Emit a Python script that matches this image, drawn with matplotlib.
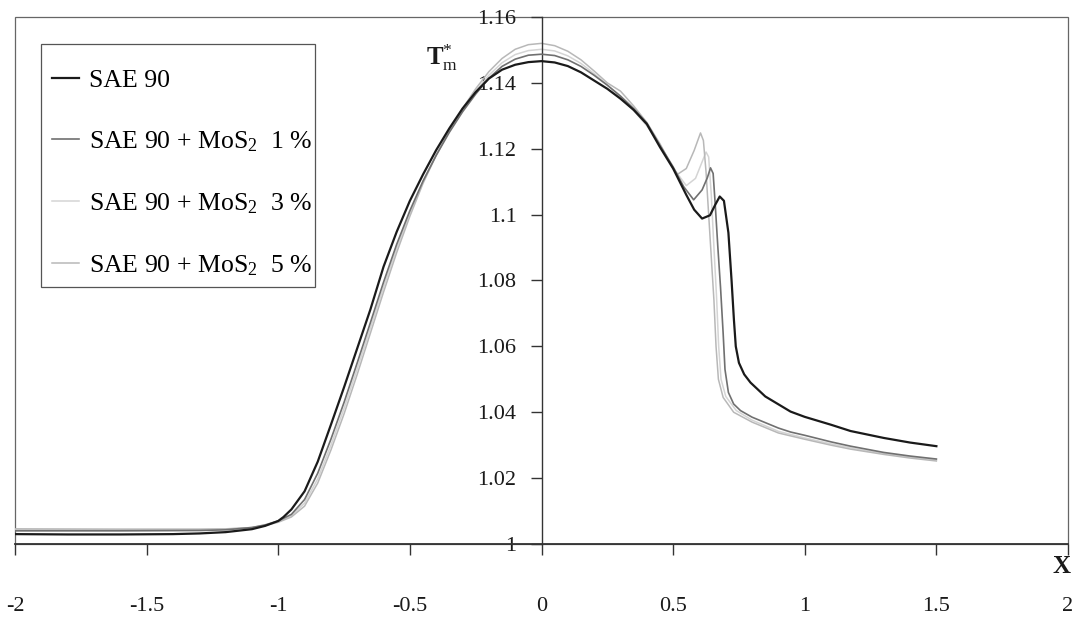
import matplotlib
matplotlib.use("Agg")
import matplotlib.pyplot as plt
from matplotlib.patches import Rectangle
from matplotlib.ticker import FixedLocator, FixedFormatter

plt.rcParams['font.family'] = ['Liberation Serif', 'DejaVu Serif']
plt.rcParams['mathtext.fontset'] = 'custom'
plt.rcParams['mathtext.rm'] = 'Liberation Serif'
plt.rcParams['mathtext.it'] = 'Liberation Serif:italic'
plt.rcParams['mathtext.bf'] = 'Liberation Serif:bold'
plt.rcParams['axes.unicode_minus'] = False

# ---------------- data ----------------
x_sae90 = [-2, -1.8, -1.6, -1.4, -1.3, -1.2, -1.1, -1.05, -1.0, -0.98, -0.95, -0.9, -0.85,
           -0.8, -0.75, -0.7, -0.65, -0.6, -0.55, -0.5, -0.45, -0.4, -0.35, -0.3, -0.25,
           -0.2, -0.15, -0.1, -0.05, 0, 0.05, 0.1, 0.15, 0.2, 0.25, 0.3, 0.35, 0.4, 0.45,
           0.5, 0.55, 0.58, 0.61, 0.64, 0.66, 0.677, 0.693, 0.71, 0.722, 0.731, 0.738,
           0.75, 0.77, 0.794, 0.85, 0.946, 1.0, 1.1, 1.174, 1.3, 1.4, 1.5]
y_sae90 = [1.0030, 1.0029, 1.0029, 1.0030, 1.0032, 1.0036, 1.0045, 1.0055, 1.0070, 1.0082,
           1.0105, 1.0160, 1.0250, 1.0362, 1.0476, 1.0594, 1.0712, 1.0842, 1.0948, 1.1042,
           1.1122, 1.1196, 1.1262, 1.1322, 1.1372, 1.1413, 1.1440, 1.1455, 1.1463, 1.1466,
           1.1462, 1.1451, 1.1432, 1.1407, 1.1382, 1.1352, 1.1318, 1.1275, 1.1205, 1.1140,
           1.1060, 1.1015, 1.0988, 1.0998, 1.1030, 1.1055, 1.1042, 1.0945, 1.0800, 1.0680,
           1.0600, 1.0550, 1.0515, 1.0490, 1.0448, 1.0402, 1.0386, 1.0362, 1.0343, 1.0322,
           1.0308, 1.0297]

x_mos1 = [-2, -1.6, -1.3, -1.2, -1.1, -1.05, -1.0, -0.95, -0.9, -0.85, -0.8, -0.75, -0.7,
          -0.65, -0.6, -0.55, -0.5, -0.45, -0.4, -0.35, -0.3, -0.25, -0.2, -0.15, -0.1,
          -0.05, 0, 0.05, 0.1, 0.15, 0.2, 0.25, 0.3, 0.35, 0.4, 0.45, 0.5, 0.54, 0.578,
          0.61, 0.63, 0.642, 0.652, 0.66, 0.67, 0.68, 0.69, 0.697, 0.71, 0.73, 0.756, 0.8,
          0.9, 0.946, 1.0, 1.1, 1.174, 1.3, 1.4, 1.5]
y_mos1 = [1.0040, 1.0040, 1.0041, 1.0043, 1.0050, 1.0058, 1.0070, 1.0090, 1.0135, 1.0215,
          1.0318, 1.0430, 1.0550, 1.0672, 1.0795, 1.0910, 1.1012, 1.1102, 1.1180, 1.1250,
          1.1312, 1.1366, 1.1414, 1.1450, 1.1472, 1.1484, 1.1487, 1.1483, 1.1470, 1.1450,
          1.1423, 1.1393, 1.1360, 1.1322, 1.1278, 1.1210, 1.1145, 1.1085, 1.1045, 1.1075,
          1.1112, 1.1142, 1.1125, 1.1030, 1.0900, 1.0780, 1.0640, 1.0530, 1.0460, 1.0425,
          1.0405, 1.0385, 1.0352, 1.0340, 1.0330, 1.0310, 1.0297, 1.0278, 1.0267, 1.0258]

x_mos3 = [-2, -1.6, -1.3, -1.2, -1.1, -1.05, -1.0, -0.95, -0.9, -0.85, -0.8, -0.75, -0.7,
          -0.65, -0.6, -0.55, -0.5, -0.45, -0.4, -0.35, -0.3, -0.25, -0.2, -0.15, -0.1,
          -0.05, 0, 0.05, 0.1, 0.15, 0.2, 0.25, 0.3, 0.35, 0.4, 0.45, 0.5, 0.55, 0.585,
          0.61, 0.625, 0.635, 0.645, 0.655, 0.665, 0.673, 0.682, 0.70, 0.74, 0.8, 0.9, 1.0,
          1.1, 1.2, 1.3, 1.4, 1.5]
y_mos3 = [1.0044, 1.0044, 1.0044, 1.0045, 1.0050, 1.0057, 1.0068, 1.0086, 1.0124, 1.0198,
          1.0300, 1.0412, 1.0532, 1.0656, 1.0780, 1.0898, 1.1004, 1.1100, 1.1182, 1.1253,
          1.1316, 1.1374, 1.1423, 1.1461, 1.1486, 1.1498, 1.1502, 1.1497, 1.1482, 1.1459,
          1.1428, 1.1394, 1.1357, 1.1316, 1.1270, 1.1212, 1.1142, 1.1088, 1.1110, 1.1160,
          1.1190, 1.1175, 1.1060, 1.0900, 1.0750, 1.0600, 1.0500, 1.0448, 1.0405, 1.0376,
          1.0342, 1.0322, 1.0304, 1.0288, 1.0275, 1.0264, 1.0255]

x_mos5 = [-2, -1.6, -1.3, -1.2, -1.1, -1.05, -1.0, -0.95, -0.9, -0.85, -0.8, -0.75, -0.7,
          -0.65, -0.6, -0.55, -0.5, -0.45, -0.4, -0.35, -0.3, -0.25, -0.2, -0.15, -0.1,
          -0.05, 0, 0.05, 0.1, 0.15, 0.2, 0.25, 0.3, 0.35, 0.4, 0.45, 0.5, 0.516, 0.55,
          0.58, 0.604, 0.615, 0.625, 0.635, 0.645, 0.655, 0.663, 0.672, 0.69, 0.73, 0.8,
          0.9, 1.0, 1.1, 1.174, 1.3, 1.4, 1.5]
y_mos5 = [1.0046, 1.0045, 1.0045, 1.0046, 1.0050, 1.0056, 1.0066, 1.0082, 1.0115, 1.0185,
          1.0285, 1.0395, 1.0515, 1.0640, 1.0765, 1.0885, 1.0995, 1.1095, 1.1180, 1.1255,
          1.1322, 1.1382, 1.1434, 1.1474, 1.1502, 1.1516, 1.1520, 1.1513, 1.1496, 1.1470,
          1.1436, 1.1400, 1.1375, 1.1330, 1.1280, 1.1215, 1.1140, 1.1122, 1.1140, 1.1195,
          1.1248, 1.1225, 1.1130, 1.1000, 1.0870, 1.0740, 1.0600, 1.0500, 1.0445, 1.0400,
          1.0370, 1.0337, 1.0318, 1.0300, 1.0288, 1.0272, 1.0261, 1.0252]

series_labels = ['SAE 90',
                 r'SAE 90 + MoS$_2$  1 %',
                 r'SAE 90 + MoS$_2$  3 %',
                 r'SAE 90 + MoS$_2$  5 %']

x_ticks = [-2, -1.5, -1, -0.5, 0, 0.5, 1, 1.5, 2]
x_tick_labels = ['-2', '-1.5', '-1', '-0.5', '0', '0.5', '1', '1.5', '2']
y_ticks = [1.0, 1.02, 1.04, 1.06, 1.08, 1.1, 1.12, 1.14, 1.16]
y_tick_labels = ['1', '1.02', '1.04', '1.06', '1.08', '1.1', '1.12', '1.14', '1.16']

# ---------------- figure ----------------
W, H = 1073, 625
fig = plt.figure(figsize=(W / 100, H / 100), dpi=100)
ax = fig.add_axes([15 / W, 1 - 544 / H, 1053 / W, 527 / H])

l3, = ax.plot(x_mos3, y_mos3, color='#d4d4d4', lw=1.1, zorder=2)
l5, = ax.plot(x_mos5, y_mos5, color='#b8b8b8', lw=1.1, zorder=2)
l1, = ax.plot(x_mos1, y_mos1, color='#707070', lw=1.2, zorder=3)
l0, = ax.plot(x_sae90, y_sae90, color='#1a1a1a', lw=1.6, zorder=4)

ax.set_xlim(-2, 2)
ax.set_ylim(1.0, 1.16)

# spines: y axis through x=0, x axis at bottom, framing box
for s in ['top', 'right']:
    ax.spines[s].set_visible(False)
ax.spines['left'].set_position(('data', 0))
ax.spines['left'].set_color('#333333')
ax.spines['left'].set_linewidth(1.0)
ax.spines['bottom'].set_color('#333333')
ax.spines['bottom'].set_linewidth(1.3)
ax.add_patch(Rectangle((0, 0), 1, 1, transform=ax.transAxes, fill=False,
                       edgecolor='#666666', lw=0.9, clip_on=False, zorder=1))

ax.xaxis.set_major_locator(FixedLocator(x_ticks))
ax.xaxis.set_major_formatter(FixedFormatter(x_tick_labels))
ax.yaxis.set_major_locator(FixedLocator(y_ticks))
ax.yaxis.set_major_formatter(FixedFormatter(y_tick_labels))
ax.tick_params(axis='x', direction='out', length=8, width=1.0, color='#333333',
               pad=30, labelsize=16, labelcolor='#1a1a1a')
ax.tick_params(axis='y', direction='out', length=8, width=1.0, color='#333333',
               pad=10, labelsize=16, labelcolor='#1a1a1a')

# axis titles
ax.text(-0.437, 1.1475, r'$\mathbf{T}^{*}_{\mathrm{m}}$', fontsize=18,
        ha='left', va='center', color='#1a1a1a')
ax.text(0.994, -0.042, 'X', transform=ax.transAxes, fontsize=18, fontweight='bold',
        ha='center', va='center', color='#1a1a1a')

# legend (frame drawn separately)
leg = ax.legend([l0, l1, l3, l5], series_labels,
                loc='upper left', bbox_to_anchor=(52 / W, 1 - 69 / H),
                bbox_transform=fig.transFigure,
                borderaxespad=0, borderpad=0, fontsize=18.5, frameon=False,
                handlelength=1.05, handletextpad=0.4, labelspacing=1.45)
fig.add_artist(Rectangle((41 / W, 1 - 287 / H), 274 / W, 243 / H,
                         transform=fig.transFigure, fill=False,
                         edgecolor='#555555', lw=0.9, zorder=5))

fig.savefig('out.png', dpi=100)
